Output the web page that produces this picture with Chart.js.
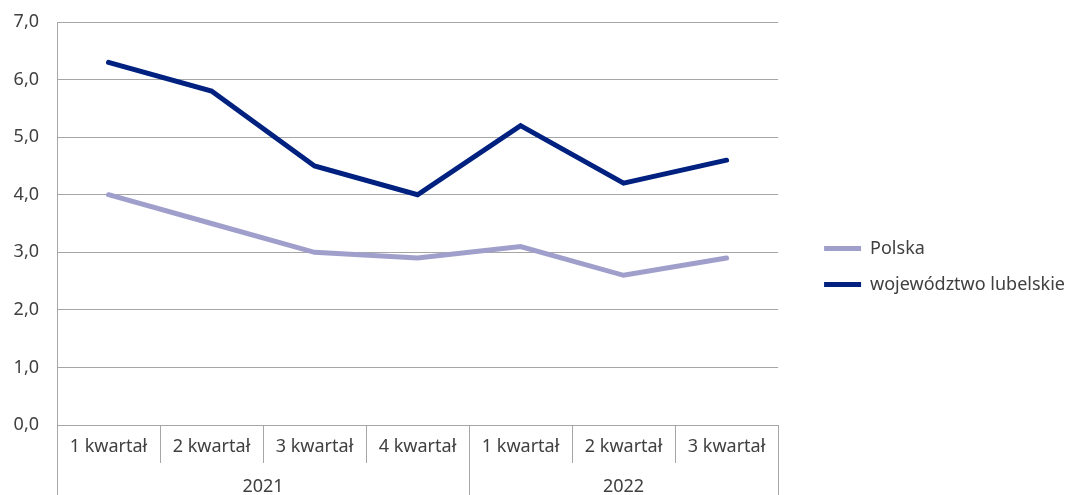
<!DOCTYPE html>
<html>
<head>
<meta charset="utf-8">
<script src="https://cdn.jsdelivr.net/npm/chart.js@4.4.0/dist/chart.umd.min.js"></script>
<style>
  html, body { margin: 0; padding: 0; background: #fff; }
  #wrap { width: 1075px; height: 495px; }
</style>
</head>
<body>
<div id="wrap"><canvas id="myChart"></canvas></div>
<script>
// data
var quarters = ['1 kwartał', '2 kwartał', '3 kwartał', '4 kwartał', '1 kwartał', '2 kwartał', '3 kwartał'];
var years = ['2021', '2022'];
var yearSpans = [4, 3];
var polska = [4.0, 3.5, 3.0, 2.9, 3.1, 2.6, 2.9];
var lubelskie = [6.3, 5.8, 4.5, 4.0, 5.2, 4.2, 4.6];
var yMin = 0, yMax = 7, yStep = 1;

var gridColor = '#a6a6a6';
var textColor = '#404040';
var fontFamily = "'Noto Sans', sans-serif";

// draws the category boxes and the year row under the x axis
var groupAxis = {
  id: 'groupAxis',
  afterDraw: function(chart) {
    var ctx = chart.ctx;
    var x = chart.scales.x;
    var area = chart.chartArea;
    var n = quarters.length;
    var half = (x.getPixelForValue(1) - x.getPixelForValue(0)) / 2;
    var bounds = [];
    for (var i = 0; i < n; i++) bounds.push(x.getPixelForValue(i) - half);
    bounds.push(x.getPixelForValue(n - 1) + half);

    var yearEdges = [0];
    var acc = 0;
    yearSpans.forEach(function(s) { acc += s; yearEdges.push(acc); });

    ctx.save();
    ctx.strokeStyle = gridColor;
    ctx.lineWidth = 1;
    bounds.forEach(function(b, i) {
      var isYear = yearEdges.indexOf(i) >= 0;
      var bx = Math.round(b) + 0.5;
      ctx.beginPath();
      ctx.moveTo(bx, area.bottom);
      ctx.lineTo(bx, isYear ? chart.height : area.bottom + 38);
      ctx.stroke();
    });

    ctx.fillStyle = textColor;
    ctx.font = '18px ' + fontFamily;
    ctx.textAlign = 'center';
    ctx.textBaseline = 'middle';
    years.forEach(function(y, k) {
      var cx = (bounds[yearEdges[k]] + bounds[yearEdges[k + 1]]) / 2;
      ctx.fillText(y, cx, area.bottom + 62);
    });
    ctx.restore();
  }
};

var ctx = document.getElementById('myChart').getContext('2d');
var chart = new Chart(ctx, {
  type: 'line',
  data: {
    labels: quarters,
    datasets: [{
      label: 'Polska',
      data: polska,
      borderColor: '#a09fcc',
      backgroundColor: '#a09fcc',
      borderWidth: 5,
      borderCapStyle: 'round',
      pointRadius: 0,
      tension: 0
    }, {
      label: 'województwo lubelskie',
      data: lubelskie,
      borderColor: '#00217f',
      backgroundColor: '#00217f',
      borderWidth: 5,
      borderCapStyle: 'round',
      pointRadius: 0,
      tension: 0
    }]
  },
  options: {
    responsive: true,
    maintainAspectRatio: false,
    animation: false,
    layout: { padding: { top: 22, left: 13, right: 0, bottom: 0 } },
    plugins: {
      tooltip: { enabled: false },
      legend: {
        position: 'right',
        align: 'center',
        maxWidth: 400,
        title: { display: true, text: '', font: { size: 10 }, padding: { top: 0, bottom: 4 } },
        labels: {
          usePointStyle: true,
          pointStyle: 'line',
          pointStyleWidth: 37,
          boxHeight: 5,
          padding: 18,
          color: textColor,
          font: { family: fontFamily, size: 18 }
        }
      }
    },
    scales: {
      x: {
        offset: true,
        grid: { display: false, drawTicks: false },
        border: { display: false },
        ticks: {
          color: textColor,
          font: { family: fontFamily, size: 18 },
          padding: 11,
          maxRotation: 0,
          autoSkip: false
        },
        afterFit: function(s) { s.height = 70; }
      },
      y: {
        min: yMin,
        max: yMax,
        grid: { color: gridColor, drawTicks: false },
        border: { display: true, color: gridColor },
        ticks: {
          stepSize: yStep,
          color: textColor,
          font: { family: fontFamily, size: 18 },
          padding: 18,
          callback: function(v) { return v.toFixed(1).replace('.', ','); }
        },
        afterFit: function(s) { s.width = 44; s.paddingTop = 0; s.paddingBottom = 0; }
      },
      gap: {
        position: 'right',
        display: true,
        grid: { display: false },
        border: { display: false },
        ticks: { display: false },
        afterFit: function(s) { s.width = 28; }
      }
    }
  },
  plugins: [groupAxis]
});
</script>
</body>
</html>
